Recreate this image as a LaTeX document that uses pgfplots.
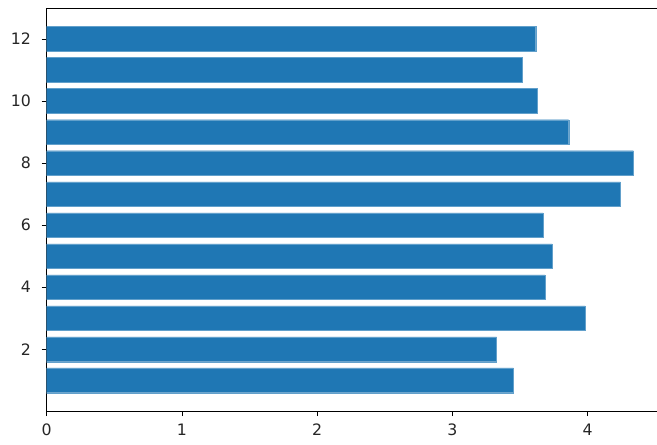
\documentclass[border=0pt]{standalone}
\usepackage{pgfplots}
\pgfplotsset{compat=1.18}
\usepackage{fontspec}
\setmainfont{DejaVu Sans}
\definecolor{barblue}{HTML}{1F77B4}

\begin{document}
\begin{tikzpicture}
\begin{axis}[
    name=ax,
    at={(0pt,0pt)}, anchor=south west,
    scale only axis,
    width=461.9pt, height=302.0pt,
    xmin=0, xmax=4.554,
    ymin=0.01, ymax=12.99,
    xtick={0,1,2,3,4},
    ytick={2,4,6,8,10,12},
    xtick pos=bottom, ytick pos=left,
    tick align=outside,
    major tick length=3.75pt,
    tick style={black, line width=0.6pt},
    axis line style={black, line width=0.6pt},
    /pgf/number format/assume math mode=true,
    tick label style={font=\fontsize{11.8}{14}\selectfont, text=black!85},
    xticklabel style={yshift=-2.5pt},
    yticklabel style={xshift=-4.5pt},
    xbar, bar width=0.8,
]
\addplot[fill=barblue, draw=barblue!70!white, line width=0.3pt] coordinates {
    (3.450,1) (3.327,2) (3.982,3) (3.684,4) (3.738,5) (3.670,6)
    (4.241,7) (4.337,8) (3.860,9) (3.628,10) (3.519,11) (3.616,12)
};
\end{axis}
\pgfresetboundingbox
\path[use as bounding box] (-35.0pt,-24.75pt) rectangle (457.7pt,308.25pt);
\end{tikzpicture}
\end{document}
